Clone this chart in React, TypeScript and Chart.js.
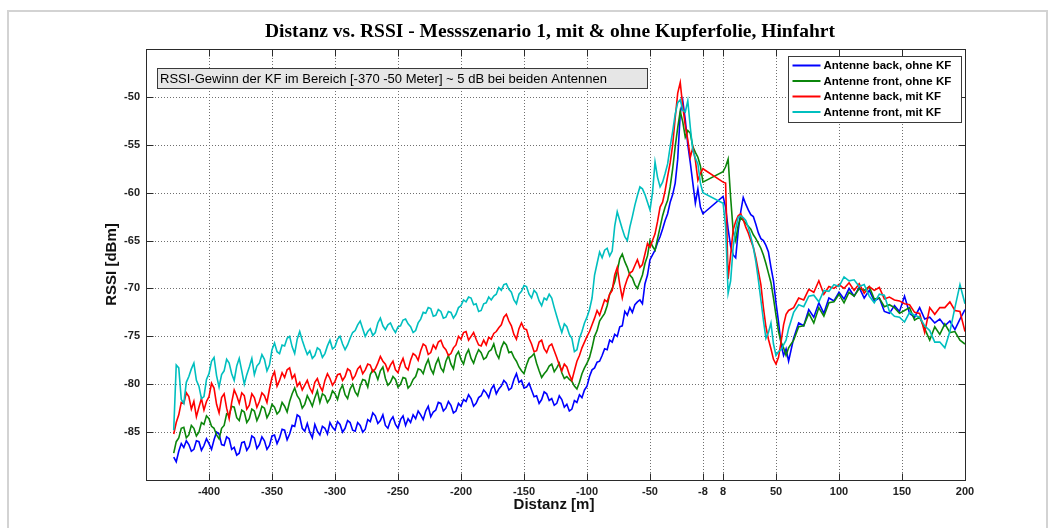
import { useEffect, useRef } from "react";
import { Chart, registerables } from "chart.js";

Chart.register(...registerables);

// Distance along the track [m]: approach (2 m steps), departure (2 m steps near the reader, then 4 m)
const distance = [
  -428, -426, -424, -422, -420, -418, -416, -414, -412, -410, -408, -406, -404, -402, -400, -398, -396, -394, -392, -390,
  -388, -386, -384, -382, -380, -378, -376, -374, -372, -370, -368, -366, -364, -362, -360, -358, -356, -354, -352, -350,
  -348, -346, -344, -342, -340, -338, -336, -334, -332, -330, -328, -326, -324, -322, -320, -318, -316, -314, -312, -310,
  -308, -306, -304, -302, -300, -298, -296, -294, -292, -290, -288, -286, -284, -282, -280, -278, -276, -274, -272, -270,
  -268, -266, -264, -262, -260, -258, -256, -254, -252, -250, -248, -246, -244, -242, -240, -238, -236, -234, -232, -230,
  -228, -226, -224, -222, -220, -218, -216, -214, -212, -210, -208, -206, -204, -202, -200, -198, -196, -194, -192, -190,
  -188, -186, -184, -182, -180, -178, -176, -174, -172, -170, -168, -166, -164, -162, -160, -158, -156, -154, -152, -150,
  -148, -146, -144, -142, -140, -138, -136, -134, -132, -130, -128, -126, -124, -122, -120, -118, -116, -114, -112, -110,
  -108, -106, -104, -102, -100, -98, -96, -94, -92, -90, -88, -86, -84, -82, -80, -78, -76, -74, -72, -70,
  -68, -66, -64, -62, -60, -58, -56, -54, -52,
  -50, -48, -46, -44, -42, -40, -38, -36, -34, -32,
  -30, -28, -26, -24, -22, -20, -18, -16, -14, -12,
  -10, -8,
  8, 10, 12, 14, 16, 18, 20, 22, 24, 26,
  28, 30, 32, 34, 36, 38, 40, 42, 44, 46,
  48, 50, 52, 54, 56, 58, 60,
  64, 68, 72, 76, 80, 84, 88, 92, 96, 100,
  104, 108, 112, 116, 120, 124, 128, 132, 136, 140,
  144, 148, 152, 156, 160, 164, 168, 172, 176, 180,
  184, 188, 192, 196, 200,
];

// RSSI [dBm], rear antenna without copper foil
const backOhneKF = [
  -87.6, -88.1, -87.0, -86.2, -86.6, -85.9, -86.3, -87.0, -86.8, -85.9, -86.0, -86.9, -86.4, -85.7, -86.2, -86.8, -85.8, -85.0, -85.2, -86.3,
  -86.4, -85.5, -85.7, -86.8, -86.6, -87.4, -87.2, -86.1, -86.0, -86.9, -86.5, -85.4, -85.6, -86.7, -86.3, -85.5, -85.9, -86.8, -86.4, -85.4,
  -85.3, -86.2, -85.6, -84.7, -84.8, -85.8, -85.2, -84.3, -84.4, -83.2, -83.4, -84.6, -84.9, -84.1, -85.0, -85.6, -84.2, -84.9, -85.3, -84.4,
  -84.6, -85.2, -84.0, -84.5, -84.8, -83.9, -84.2, -85.0, -84.6, -83.8, -84.0, -84.8, -84.9, -84.0, -84.3, -85.0, -84.7, -83.7, -83.9, -83.0,
  -83.3, -84.1, -83.8, -83.2, -84.3, -84.6, -83.8, -83.4, -84.2, -84.6, -83.7, -83.3, -84.3, -83.6, -84.0, -83.2, -83.6, -82.8, -83.2, -83.7,
  -82.8, -82.3, -83.4, -82.9, -82.7, -81.9, -82.0, -82.8, -82.5, -81.8, -82.2, -83.0, -82.8, -82.0, -82.3, -81.6, -81.8, -81.1, -81.5, -82.3,
  -82.0, -81.4, -81.2, -80.6, -80.9, -81.4, -80.5, -80.1, -81.0, -80.5, -80.2, -79.6, -79.9, -80.6, -80.4, -79.5, -78.9, -79.8, -79.6, -80.4,
  -80.3, -79.9, -80.6, -81.3, -81.2, -82.0, -81.6, -80.8, -81.0, -81.7, -81.5, -82.2, -82.0, -81.2, -81.6, -82.4, -82.1, -82.8, -82.6, -81.7,
  -81.9, -81.1, -81.4, -80.6, -80.2, -79.2, -78.5, -78.3, -77.7, -77.6, -77.0, -76.3, -76.4, -75.4, -75.6, -74.8, -75.0, -74.0, -73.9, -72.4,
  -72.8, -72.0, -72.5, -71.7, -71.4, -71.2, -71.6, -69.5, -68.6,
  -67.0, -66.5, -66.0, -65.2, -64.6, -63.8, -62.9, -62.2, -61.0, -60.2,
  -59.0, -56.5, -51.7, -50.4, -52.4, -55.0, -56.9, -59.0, -61.1, -59.6,
  -61.5, -62.2,
  -60.4, -61.5, -63.8, -65.6, -66.5, -66.8, -64.0, -62.0, -60.5, -61.2,
  -61.8, -62.3, -62.5, -63.3, -64.2, -64.8, -65.0, -65.5, -66.2, -67.8,
  -69.2, -71.5, -73.5, -75.8, -77.0, -76.3, -77.6,
  -75.2, -73.6, -73.9, -72.2, -73.0, -71.5, -72.6, -71.0, -71.3, -70.4,
  -71.1, -70.0, -70.8, -69.9, -71.0, -70.2, -71.3, -71.0, -72.4, -72.6,
  -71.8, -72.4, -70.8, -72.6, -73.0, -72.0, -73.2, -73.0, -73.6, -73.2,
  -73.9, -73.4, -74.3, -73.2, -72.2,
];

// RSSI [dBm], front antenna without copper foil
const frontOhneKF = [
  -87.2, -86.0, -85.6, -84.6, -84.5, -85.6, -85.3, -84.3, -84.6, -85.4, -85.0, -84.0, -84.2, -83.3, -83.6, -84.4, -84.6, -85.3, -85.7, -84.6,
  -84.3, -83.1, -83.2, -82.3, -82.4, -83.5, -83.8, -82.7, -82.9, -84.0, -83.6, -82.6, -82.8, -83.8, -83.2, -82.3, -82.5, -83.5, -83.0, -82.1,
  -82.4, -83.1, -82.8, -81.9, -82.3, -82.9, -81.8, -81.0, -80.4, -81.2, -81.6, -82.5, -82.1, -81.2, -81.7, -82.3, -81.4, -80.7, -81.9, -81.0,
  -81.2, -81.9, -81.5, -80.7, -81.0, -81.6, -80.6, -80.1, -81.1, -81.5, -80.5, -80.0, -80.8, -81.2, -80.2, -79.5, -79.6, -80.3, -79.0, -78.5,
  -78.8, -79.5, -78.6, -78.2, -79.4, -80.1, -79.8, -79.2, -79.5, -80.3, -80.0, -79.3, -79.4, -80.4, -80.1, -79.5, -79.2, -78.4, -78.5, -78.9,
  -78.0, -77.4, -78.4, -78.9, -77.9, -77.3, -78.3, -78.7, -77.6, -77.0, -77.9, -78.4, -77.0, -76.6, -77.4, -77.9, -76.9, -76.4, -77.3, -77.8,
  -77.0, -76.4, -76.7, -77.4, -77.2, -76.6, -76.4, -75.8, -76.8, -77.3, -76.2, -75.6, -75.9, -76.7, -76.6, -77.2, -77.6, -78.2, -78.6, -78.9,
  -78.0, -77.3, -77.1, -76.8, -77.8, -78.6, -79.3, -78.9, -78.6, -78.1, -77.9, -78.7, -78.3, -77.8, -78.8, -79.4, -79.2, -79.5, -79.7, -80.2,
  -80.5, -79.8, -78.9, -78.3, -77.8, -77.2, -76.2, -75.0, -74.4, -73.4, -73.0, -72.6, -71.8, -70.6, -70.0, -69.3, -68.2, -66.9, -66.4, -67.2,
  -67.8, -68.6, -68.9, -69.6, -70.0, -69.3, -68.6, -67.4, -66.6,
  -65.0, -65.6, -66.0, -64.8, -63.6, -62.4, -61.5, -60.8, -59.4, -57.5,
  -55.2, -53.2, -51.5, -52.6, -54.2, -53.5, -53.8, -55.2, -55.8, -56.3,
  -57.2, -58.9,
  -57.8, -57.3, -56.5, -60.5, -64.0, -65.0, -63.4, -62.6, -62.9, -63.2,
  -63.5, -63.8, -64.4, -64.8, -65.3, -65.8, -66.5, -67.4, -68.4, -69.4,
  -71.0, -72.8, -74.5, -75.6, -76.2, -77.0, -76.2,
  -75.4, -74.0, -73.9, -72.6, -73.6, -72.0, -72.9, -71.5, -71.4, -70.6,
  -71.5, -70.4, -70.8, -70.0, -70.2, -69.8, -71.1, -71.0, -71.9, -71.7,
  -72.0, -72.6, -72.3, -72.0, -73.3, -73.0, -74.2, -75.4, -74.0, -74.8,
  -73.7, -74.6, -74.5, -75.4, -75.8,
];

// RSSI [dBm], rear antenna with copper foil
const backMitKF = [
  -85.2, -84.0, -83.2, -81.9, -82.0, -80.9, -81.3, -82.6, -81.8, -83.4, -82.4, -81.5, -82.7, -81.8, -81.3, -79.9, -80.4, -82.1, -83.0, -81.4,
  -81.0, -82.5, -83.6, -81.9, -80.6, -81.2, -82.0, -80.9, -81.2, -82.6, -82.2, -81.0, -81.4, -82.4, -81.8, -80.9, -81.2, -81.9, -80.5, -79.3,
  -78.7, -80.2, -79.6, -78.8, -79.3, -78.5, -78.3, -79.4, -79.0, -80.2, -79.8, -80.6, -80.1, -79.6, -80.4, -80.9, -79.8, -79.4, -80.2, -80.7,
  -79.6, -78.9, -79.4, -80.1, -79.7, -79.0, -78.9, -79.6, -79.2, -78.4, -78.6, -79.5, -79.1, -78.4, -78.1, -78.9, -78.5, -77.9, -78.0, -78.7,
  -78.4, -77.8, -77.1, -77.6, -77.9, -78.6, -78.0, -77.6, -78.5, -78.8, -77.9, -77.3, -78.2, -78.5, -77.5, -76.8, -77.0, -77.5, -76.5, -75.8,
  -76.0, -76.9, -76.7, -75.9, -76.3, -75.6, -75.4, -76.1, -76.4, -77.0, -76.8, -76.2, -75.9, -75.0, -75.3, -74.6, -74.5, -75.4, -75.0, -74.6,
  -75.3, -75.9, -76.0, -75.4, -75.9, -75.1, -75.3, -74.7, -74.5, -74.1, -73.8, -73.0, -72.7, -73.4, -73.9, -74.8, -75.3, -74.2, -73.6, -74.2,
  -74.3, -75.2, -75.8, -76.6, -76.5, -75.6, -75.4, -76.3, -76.7, -76.0, -75.8, -76.5, -77.2, -78.0, -78.6, -77.9, -78.2, -79.0, -79.6, -78.6,
  -77.6, -77.0, -76.2, -75.6, -75.0, -74.5, -73.8, -73.1, -72.3, -72.8, -72.0, -71.2, -71.4, -70.6, -70.2, -68.6, -67.8, -69.6, -71.0, -69.8,
  -69.0, -68.4, -68.2, -67.6, -67.0, -67.8, -67.5, -66.4, -65.3,
  -65.7, -65.0, -64.3, -63.0, -61.5, -61.0, -59.8, -58.3, -56.9, -55.0,
  -52.2, -49.6, -48.5, -51.0, -53.0, -54.5, -56.3, -55.3, -56.6, -58.7,
  -58.0, -57.5,
  -58.9, -59.0, -69.0, -66.5, -63.9, -63.0, -62.4, -62.2, -62.8, -63.6,
  -64.2, -65.0, -65.7, -66.8, -68.2, -69.6, -72.0, -74.0, -75.3, -76.3,
  -77.4, -77.9, -77.2, -75.6, -73.8, -72.7, -72.3,
  -72.0, -71.0, -71.2, -70.1, -70.4, -69.2, -70.6, -69.8, -70.0, -69.6,
  -70.0, -69.4, -70.2, -69.5, -70.5, -69.8, -70.2, -69.9, -71.1, -70.9,
  -71.2, -71.3, -71.6, -71.7, -72.5, -72.6, -74.6, -72.0, -72.7, -72.0,
  -72.0, -71.4, -72.3, -72.4, -74.5,
];

// RSSI [dBm], front antenna with copper foil
const frontMitKF = [
  -84.8, -78.0, -78.3, -81.6, -82.0, -79.8, -79.2, -78.4, -77.8, -79.6, -80.2, -81.5, -81.3, -79.5, -78.9, -77.6, -77.2, -79.1, -80.3, -79.0,
  -78.6, -77.4, -77.8, -78.9, -79.6, -78.1, -77.3, -78.6, -80.0, -79.0, -78.2, -77.3, -79.0, -78.1, -77.8, -76.9, -77.4, -78.6, -78.0, -76.4,
  -75.7, -76.6, -76.8, -75.9, -76.0, -75.2, -75.0, -76.1, -76.8, -75.3, -74.5, -75.4, -76.2, -76.9, -76.5, -77.3, -77.0, -76.2, -76.4, -77.2,
  -76.8, -76.0, -75.4, -76.3, -76.1, -75.3, -75.0, -75.8, -76.4, -75.9, -75.2, -74.6, -74.4, -73.8, -73.4, -74.2, -75.0, -74.5, -74.2, -74.9,
  -74.6, -73.6, -73.1, -73.9, -74.3, -73.8, -73.6, -74.2, -74.6, -74.0, -73.9, -73.3, -73.2, -73.7, -74.0, -74.6, -74.4, -73.6, -73.2, -72.5,
  -72.6, -72.0, -72.1, -72.9, -72.8, -72.2, -72.4, -73.1, -73.0, -72.4, -72.5, -73.1, -72.7, -72.0, -71.8, -71.2, -71.4, -70.9, -71.0, -71.7,
  -71.6, -72.4, -72.3, -71.6, -71.5, -70.9, -71.2, -70.8, -70.6, -69.9, -70.2, -69.6, -69.5, -70.1, -70.4, -71.2, -71.6, -70.6, -70.3, -69.7,
  -69.8, -70.6, -71.0, -70.2, -70.5, -71.3, -71.8, -71.0, -71.2, -70.6, -71.0, -72.0, -72.9, -73.8, -74.6, -73.7, -74.0, -74.8, -75.2, -76.6,
  -76.4, -75.2, -74.5, -73.6, -73.0, -72.2, -71.0, -68.6, -67.4, -66.2, -66.8, -66.0, -65.8, -66.6, -66.1, -63.5, -62.0, -62.9, -63.8, -64.6,
  -65.0, -63.6, -62.5, -61.3, -60.3, -59.4, -59.6, -60.2, -61.0,
  -61.8, -60.0, -56.8, -58.4, -59.4, -58.9, -58.0, -57.0, -55.2, -53.6,
  -51.8, -50.6, -50.3, -51.4, -51.6, -50.4, -53.2, -55.6, -56.4, -57.0,
  -59.0, -60.0,
  -61.1, -63.5, -70.5, -69.2, -65.7, -63.8, -62.6, -62.4, -62.6, -62.9,
  -63.6, -64.6, -65.7, -67.2, -69.1, -71.2, -73.3, -75.2, -74.6, -73.6,
  -75.8, -77.0, -76.6, -76.4, -75.9, -75.4, -74.2,
  -72.5, -71.7, -71.9, -70.8, -70.7, -71.4, -70.2, -70.3, -69.6, -69.8,
  -68.8, -69.2, -69.1, -69.8, -69.6, -70.8, -71.5, -70.6, -70.7, -72.4,
  -72.9, -73.0, -73.5, -72.5, -72.8, -73.0, -73.9, -74.4, -75.6, -75.6,
  -76.2, -74.5, -72.0, -69.6, -71.6,
];

const xTickValues = [-400, -350, -300, -250, -200, -150, -100, -50, -8, 8, 50, 100, 150, 200];
const yTickValues = [-85, -80, -75, -70, -65, -60, -55, -50];

const seriesLabels = [
  "Antenne back, ohne KF",
  "Antenne front, ohne KF",
  "Antenne back, mit KF",
  "Antenne front, mit KF",
];
const seriesValues = [backOhneKF, frontOhneKF, backMitKF, frontMitKF];
const seriesColors = ["#0000ff", "#0b860b", "#ff0000", "#00bfbf"];

const titleText = "Distanz vs. RSSI - Messszenario 1, mit & ohne Kupferfolie, Hinfahrt";
const xAxisTitle = "Distanz [m]";
const yAxisTitle = "RSSI [dBm]";
const noteText = "RSSI-Gewinn der KF im Bereich [-370 -50 Meter] ~ 5 dB bei beiden Antennen";

const SANS = '"Liberation Sans", Arial, Helvetica, sans-serif';
const SERIF = '"Liberation Serif", "Times New Roman", Times, serif';
const AXIS_INK = "#2a2a2a";

const W = 1053;
const H = 528;

// Figure frame, dotted grid, boxed axes with inward ticks, titles, note and legend
const figureDecor = {
  id: "figureDecor",
  beforeDraw(chart: any) {
    const { ctx } = chart;
    ctx.save();
    ctx.fillStyle = "#ffffff";
    ctx.fillRect(0, 0, chart.width, chart.height);
    ctx.strokeStyle = "#d3d3d3";
    ctx.lineWidth = 2;
    ctx.strokeRect(8, 11, chart.width - 14, chart.height + 20);
    ctx.restore();
  },
  beforeDatasetsDraw(chart: any) {
    const { ctx, chartArea: a } = chart;
    const xs = chart.scales.x;
    const ys = chart.scales.y;
    ctx.save();
    ctx.strokeStyle = "#6f6f6f";
    ctx.lineWidth = 1;
    ctx.setLineDash([1, 2]);
    ctx.beginPath();
    for (const t of xs.ticks) {
      const px = Math.round(xs.getPixelForValue(t.value)) + 0.5;
      ctx.moveTo(px, a.top);
      ctx.lineTo(px, a.bottom);
    }
    for (const t of ys.ticks) {
      const py = Math.round(ys.getPixelForValue(t.value)) + 0.5;
      ctx.moveTo(a.left, py);
      ctx.lineTo(a.right, py);
    }
    ctx.stroke();
    ctx.restore();
  },
  afterDatasetsDraw(chart: any) {
    const { ctx, chartArea: a } = chart;
    const xs = chart.scales.x;
    const ys = chart.scales.y;
    const L = Math.round(a.left) + 0.5;
    const R = Math.round(a.right) + 0.5;
    const T = Math.round(a.top) + 0.5;
    const B = Math.round(a.bottom) + 0.5;
    const tick = 7;

    ctx.save();
    // axes box and inward tick marks on all four sides
    ctx.strokeStyle = AXIS_INK;
    ctx.lineWidth = 1;
    ctx.strokeRect(L, T, R - L, B - T);
    ctx.beginPath();
    for (const t of xs.ticks) {
      const px = Math.round(xs.getPixelForValue(t.value)) + 0.5;
      ctx.moveTo(px, B);
      ctx.lineTo(px, B - tick);
      ctx.moveTo(px, T);
      ctx.lineTo(px, T + tick);
    }
    for (const t of ys.ticks) {
      const py = Math.round(ys.getPixelForValue(t.value)) + 0.5;
      ctx.moveTo(L, py);
      ctx.lineTo(L + tick, py);
      ctx.moveTo(R, py);
      ctx.lineTo(R - tick, py);
    }
    ctx.stroke();

    // note box
    const nx = 157.5;
    const ny = 68.5;
    const nw = 490;
    const nh = 20;
    ctx.fillStyle = "#e6e6e6";
    ctx.fillRect(nx, ny, nw, nh);
    ctx.strokeStyle = "#3a3a3a";
    ctx.strokeRect(nx, ny, nw, nh);
    ctx.fillStyle = "#000000";
    ctx.font = `13px ${SANS}`;
    ctx.textAlign = "left";
    ctx.textBaseline = "middle";
    ctx.fillText(noteText, nx + 2.5, ny + nh / 2 + 0.5);

    // legend
    const lx = 788.5;
    const ly = 56.5;
    const lw = 173;
    const lh = 66;
    ctx.fillStyle = "#ffffff";
    ctx.fillRect(lx, ly, lw, lh);
    ctx.strokeStyle = "#3a3a3a";
    ctx.strokeRect(lx, ly, lw, lh);
    ctx.font = `bold 11.5px ${SANS}`;
    chart.data.datasets.forEach((ds: any, i: number) => {
      const yy = ly + 9 + i * 15.5;
      ctx.strokeStyle = ds.borderColor;
      ctx.lineWidth = 2;
      ctx.beginPath();
      ctx.moveTo(lx + 4, yy);
      ctx.lineTo(lx + 32, yy);
      ctx.stroke();
      ctx.fillStyle = "#000000";
      ctx.fillText(ds.label, lx + 35, yy + 0.5);
    });
    ctx.restore();
  },
  afterDraw(chart: any) {
    const { ctx, chartArea: a } = chart;
    ctx.save();
    ctx.fillStyle = "#000000";
    ctx.textBaseline = "middle";
    ctx.textAlign = "center";

    // title, fitted to its printed width
    ctx.font = `bold 19px ${SERIF}`;
    const tw = ctx.measureText(titleText).width;
    const target = 570;
    ctx.save();
    ctx.translate(550, 32);
    ctx.scale(target / tw, 1);
    ctx.fillText(titleText, 0, 0);
    ctx.restore();

    ctx.fillStyle = "#111111";
    ctx.font = `bold 15px ${SANS}`;
    ctx.fillText(xAxisTitle, 554, 505);

    ctx.save();
    ctx.translate(112, (a.top + a.bottom) / 2);
    ctx.rotate(-Math.PI / 2);
    ctx.fillText(yAxisTitle, 0, 0);
    ctx.restore();

    ctx.restore();
  },
};

export default function App() {
  const canvasRef = useRef<HTMLCanvasElement | null>(null);

  useEffect(() => {
    const canvas = canvasRef.current;
    if (!canvas) return;

    const datasets = seriesValues.map((vals, i) => ({
      label: seriesLabels[i],
      data: distance.map((d, k) => ({ x: d, y: vals[k] })),
      borderColor: seriesColors[i],
      backgroundColor: seriesColors[i],
      borderWidth: 1.6,
      pointRadius: 0,
      fill: false,
      tension: 0,
      order: seriesValues.length - 1 - i,
    }));

    const tickFont = { family: SANS, size: 11, weight: "bold" as const };

    const chart = new Chart(canvas, {
      type: "line",
      data: { datasets },
      options: {
        animation: false,
        responsive: false,
        maintainAspectRatio: false,
        devicePixelRatio: 1,
        layout: { padding: { left: 0, right: 88, top: 49, bottom: 0 } },
        plugins: {
          legend: { display: false },
          title: { display: false },
          tooltip: { enabled: false },
        },
        scales: {
          x: {
            type: "linear",
            min: -450,
            max: 200,
            afterBuildTicks: (scale: any) => {
              scale.ticks = xTickValues.map((v) => ({ value: v }));
            },
            afterFit: (scale: any) => {
              scale.height = 48;
            },
            grid: { display: false, drawTicks: false },
            border: { display: false },
            ticks: {
              autoSkip: false,
              maxRotation: 0,
              minRotation: 0,
              padding: 5,
              color: "#222222",
              font: tickFont,
              callback: (v: any) => String(v),
            },
          },
          y: {
            type: "linear",
            min: -90,
            max: -45,
            afterBuildTicks: (scale: any) => {
              scale.ticks = yTickValues.map((v) => ({ value: v }));
            },
            afterFit: (scale: any) => {
              scale.width = 146;
            },
            grid: { display: false, drawTicks: false },
            border: { display: false },
            ticks: {
              padding: 6,
              color: "#222222",
              font: tickFont,
              callback: (v: any) => String(v),
            },
          },
        },
      },
      plugins: [figureDecor],
    });

    return () => chart.destroy();
  }, []);

  return (
    <div style={{ position: "absolute", left: 0, top: 0, width: W, height: H, overflow: "hidden" }}>
      <canvas ref={canvasRef} width={W} height={H} style={{ display: "block", width: W, height: H }} />
    </div>
  );
}
